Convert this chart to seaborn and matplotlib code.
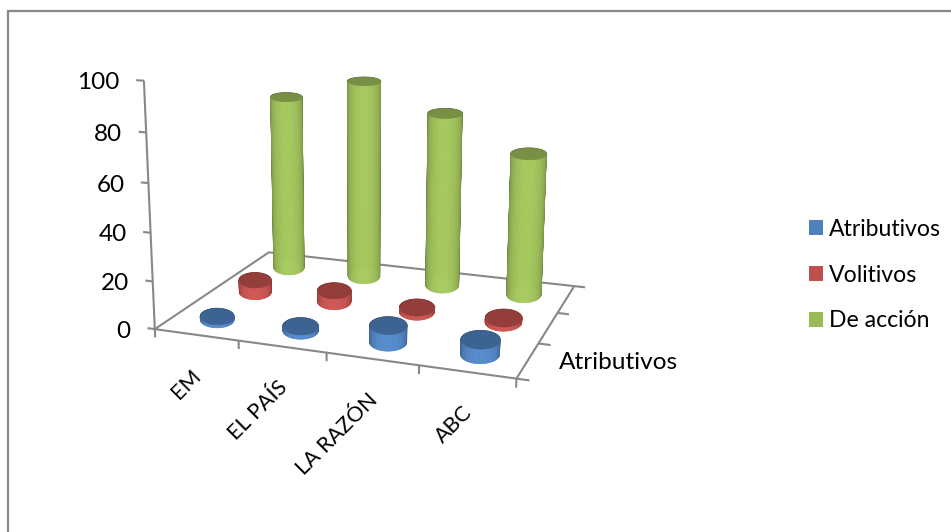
import numpy as np, matplotlib
matplotlib.use('Agg')
import matplotlib.pyplot as plt
import seaborn as sns
from matplotlib.lines import Line2D
from matplotlib.patches import Patch
from mpl_toolkits.mplot3d import proj3d
from mpl_toolkits.mplot3d.art3d import Poly3DCollection

# ---- data -------------------------------------------------------------
categories = ['EM', 'EL PAÍS', 'LA RAZÓN', 'ABC']
series_names = ['Atributivos', 'Volitivos', 'De acción']
atributivos = [1.5, 2, 7, 6]
volitivos = [5.5, 5, 2, 2]
de_accion = [79.7, 88.9, 77.2, 62.4]
z_ticks = [0, 20, 40, 60, 80, 100]
series_colors = ['#4f81bd', '#c0504d', '#9bbb59']
axis_title = 'Atributivos'

# ---- style ------------------------------------------------------------
sns.set_theme(style='white', font='Lato')
palette = sns.color_palette(series_colors)
GREY = '#888888'
W, H = 951, 532
fig = plt.figure(figsize=(W / 100, H / 100), dpi=100)
side = 495.8
cx, cy = 375.441, 191.202
ax = fig.add_axes([(cx - side * .95 / 1.85) / W, ((H - cy) - side * .95 / 1.85) / H,
                   side / W, side / H], projection='3d', computed_zorder=False)
ax.set_xlim(.5, 4.5); ax.set_ylim(.5, 3.5); ax.set_zlim(0, 100)
ax.view_init(14.3713, -70.4957, -0.1516)
ax.set_proj_type('persp', focal_length=0.4659)
ax.set_box_aspect((1.3360, 1, 0.9071))
ax.set_axis_off()
ax.patch.set_alpha(0)


def to2d(x, y, z):
    X, Y, _ = proj3d.proj_transform(x, y, z, ax.get_proj())
    return np.array([float(X), float(Y)])


def cylinder(x, y, h, color, zo, n=72):
    th = np.linspace(0, 2 * np.pi, n + 1)
    base = np.array(color)
    # floor footprint whose picture is a level ellipse, as in the original chart
    p0 = to2d(x, y, 0)
    jac = np.column_stack([(to2d(x + .01, y, 0) - p0) / .01, (to2d(x, y + .01, 0) - p0) / .01])
    half_w = .205 * np.hypot(*jac[:, 0])
    off = np.linalg.solve(jac, np.vstack([half_w * np.cos(th), .48 * half_w * np.sin(th)]))
    ex, ey = x + off[0], y + off[1]
    quads, cols = [], []
    for i in range(n):
        quads.append([(ex[i], ey[i], 0), (ex[i + 1], ey[i + 1], 0),
                      (ex[i + 1], ey[i + 1], h), (ex[i], ey[i], h)])
        d = max(-np.sin((th[i] + th[i + 1]) / 2), 0)
        cols.append(np.clip(base * (0.62 + 0.46 * d ** 0.6), 0, 1))
    body = Poly3DCollection(quads, facecolors=cols, edgecolors=cols, linewidths=.5, zorder=zo)
    ax.add_collection3d(body)
    cap = [list(zip(ex, ey, np.full_like(ex, h)))]
    top = Poly3DCollection(cap, facecolors=[base * .77], edgecolors=[base * .77], linewidths=.5, zorder=zo + .1)
    ax.add_collection3d(top)


for i, vals in enumerate([de_accion, volitivos, atributivos]):
    s = 2 - i
    for c, v in enumerate(vals):
        cylinder(c + 1, s + 1, v, palette[s], 2 + i)

lk = dict(color=GREY, lw=1.5, zorder=1, solid_capstyle='butt')
xs = np.arange(.5, 5)
ys = np.arange(.5, 4)
ax.plot([.5, 4.5, 4.5, .5, .5], [.5, .5, 3.5, 3.5, .5], [0, 0, 0, 0, 0], **lk)
ax.plot([.5, .5], [.5, .5], [0, 100], **lk)
for z in z_ticks:
    ax.plot([.5, .41], [.5, .5], [z, z], **lk)
for x in xs:
    ax.plot([x, x], [.5, .5], [0, -3.5], **lk)
for y in ys:
    ax.plot([4.5, 4.63], [y, y], [0, 0], **lk)

for z in z_ticks:
    ax.annotate(str(z), to2d(.5, .5, z), xytext=(-24, -2), textcoords='offset pixels',
                ha='right', va='center', fontsize=17.5, color='black')
for c, lab in enumerate(categories):
    ax.annotate(lab, to2d(c + 1, .5, 0), xytext=(2, -38), textcoords='offset pixels', ha='right',
                va='center', rotation=45, rotation_mode='anchor', fontsize=15.5, color='black')
ax.annotate(axis_title, to2d(4.5, 2, 0), xytext=(11, -35), textcoords='offset pixels', ha='left',
            va='center', fontsize=17.6, color='black')

handles = [Patch(facecolor=col, edgecolor='none') for col in palette]
fig.legend(handles, series_names, loc='center left', bbox_to_anchor=(800 / W, 1 - 275 / H),
           frameon=False, fontsize=16.6, handlelength=.61, handleheight=.61, handletextpad=.26,
           labelspacing=1.08, labelcolor='black', borderaxespad=0)

fig.add_artist(Line2D([7.5 / W, 7.5 / W, 1], [0, 1 - 11 / H, 1 - 11 / H], transform=fig.transFigure,
                      color=GREY, lw=1.6, solid_joinstyle='miter'))
fig.savefig('out.png', dpi=100)
